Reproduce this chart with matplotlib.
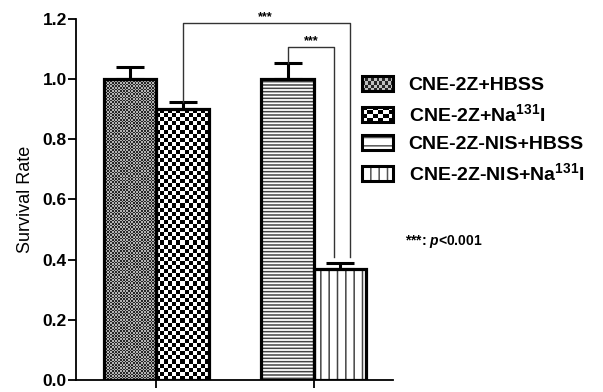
import numpy as np
import matplotlib
matplotlib.use('Agg')
import matplotlib.pyplot as plt
from matplotlib.patches import Rectangle, Patch
from matplotlib.legend_handler import HandlerBase
from matplotlib.image import BboxImage
from matplotlib.transforms import Bbox, TransformedBbox

plt.rcParams['font.family'] = ['Liberation Sans', 'DejaVu Sans']
plt.rcParams['mathtext.fontset'] = 'custom'
plt.rcParams['mathtext.rm'] = 'Liberation Sans:bold'
plt.rcParams['mathtext.bf'] = 'Liberation Sans:bold'
plt.rcParams['mathtext.it'] = 'Liberation Sans:bold:italic'
plt.rcParams['hatch.linewidth'] = 1.1

# data
groups = ['CNE-2Z+HBSS', 'CNE-2Z+Na$^{\\mathrm{131}}$I',
          'CNE-2Z-NIS+HBSS', 'CNE-2Z-NIS+Na$^{\\mathrm{131}}$I']
positions = [0, 1, 3, 4]
means = [1.00, 0.90, 1.00, 0.37]
errors = [0.04, 0.025, 0.053, 0.018]
# significance brackets: (left bar, right x, top y, right foot y, star x, star y)
brackets = [(1, 4.19, 1.187, 0.41, 2.57, 1.205),
            (2, 3.88, 1.107, 0.41, 3.45, 1.125)]
yticks = [0.0, 0.2, 0.4, 0.6, 0.8, 1.0, 1.2]

fig = plt.figure(figsize=(6.03, 3.92), dpi=100)
ax = fig.add_axes([76 / 603, 12 / 392, 317 / 603, 361 / 392])
ax.set_xlim(-1.03, 5.01)
ax.set_ylim(0, 1.2)


def checker(nr, nc, lo, hi):
    i, j = np.indices((nr, nc))
    return np.where((i + j) % 2 == 0, lo, hi)


# fill styles per bar
styles = [('checker', 1.6, 0.15, 0.7), ('checker', 4.1, 0.0, 1.0),
          ('hatch', '-----', None, None), ('hatch', '||', None, None)]

fig.canvas.draw()
px_per_x = ax.transData.transform((1, 0))[0] - ax.transData.transform((0, 0))[0]
px_per_y = ax.transData.transform((0, 1))[1] - ax.transData.transform((0, 0))[1]

outline = ax.bar(positions, means, width=1.0, facecolor='none',
                 edgecolor='black', linewidth=2.3, zorder=3)
for bar, st in zip(outline, styles):
    x0, y0 = bar.get_x(), bar.get_y()
    w, h = bar.get_width(), bar.get_height()
    if st[0] == 'checker':
        cell = st[1]
        nr = max(1, int(round(h * px_per_y / cell)))
        nc = max(1, int(round(w * px_per_x / cell)))
        ax.imshow(checker(nr, nc, st[2], st[3]), extent=(x0, x0 + w, y0, y0 + h),
                  origin='lower', aspect='auto', cmap='gray', vmin=0, vmax=1,
                  interpolation='nearest', zorder=2)
    else:
        ax.add_patch(Rectangle((x0, y0), w, h, facecolor='white', edgecolor='#444444',
                               linewidth=0, hatch=st[1], zorder=2))
ax.set_xlim(-1.03, 5.01)
ax.set_ylim(0, 1.2)

ax.errorbar(positions, means, yerr=[np.zeros(4), errors], fmt='none',
            ecolor='black', elinewidth=2.2, capsize=10, capthick=2.2, zorder=4)

for left, xr, ytop, yfoot, sx, sy in brackets:
    xl = positions[left]
    yl = means[left] + errors[left]
    ax.plot([xl, xl, xr, xr], [yl, ytop, ytop, yfoot], color='#333333',
            linewidth=1.0, clip_on=False, zorder=5)
    ax.text(sx, sy, '***', ha='center', va='center', fontsize=9,
            fontweight='bold', clip_on=False)

ax.spines['top'].set_visible(False)
ax.spines['right'].set_visible(False)
ax.spines['left'].set_linewidth(1.3)
ax.spines['bottom'].set_linewidth(1.3)
ax.set_yticks(yticks)
ax.set_yticklabels([f'{v:.1f}' for v in yticks], fontsize=12.5, fontweight='bold')
ax.set_xticks([0.5, 3.5])
ax.set_xticklabels([])
ax.tick_params(axis='both', direction='out', length=5.5, width=1.3, pad=1)
ax.set_ylabel('Survival Rate', fontsize=13, labelpad=6)


# legend swatches
class SwatchHandler(HandlerBase):
    def __init__(self, kind, param):
        super().__init__()
        self.kind = kind
        self.param = param

    def create_artists(self, legend, orig_handle, xdescent, ydescent,
                       width, height, fontsize, trans):
        arts = []
        if self.kind == 'checker':
            nr, nc, lo, hi = self.param
            bb = TransformedBbox(Bbox.from_bounds(-xdescent, -ydescent, width, height), trans)
            img = BboxImage(bb, cmap='gray', norm=plt.Normalize(0, 1),
                            interpolation='nearest')
            img.set_data(checker(nr, nc, lo, hi))
            arts.append(img)
        else:
            arts.append(Rectangle((-xdescent, -ydescent), width, height,
                                  facecolor='white', edgecolor='#555555',
                                  linewidth=0, hatch=self.param, transform=trans))
        arts.append(Rectangle((-xdescent, -ydescent), width, height,
                              facecolor='none', edgecolor='black',
                              linewidth=2.2, transform=trans))
        return arts


handles = [Patch() for _ in groups]
hmap = {handles[0]: SwatchHandler('checker', (5, 11, 0.15, 0.75)),
        handles[1]: SwatchHandler('checker', (4, 6, 0.0, 1.0)),
        handles[2]: SwatchHandler('hatch', '--'),
        handles[3]: SwatchHandler('hatch', '||')}
ax.legend(handles, groups, handler_map=hmap, loc='upper left',
          bbox_to_anchor=(362 / 603, 1 - 76 / 392), bbox_transform=fig.transFigure,
          frameon=False, prop={'weight': 'bold', 'size': 14},
          handlelength=1.6, handleheight=0.82, handletextpad=0.8,
          labelspacing=0.48, borderpad=0, borderaxespad=0)

fig.text(405 / 603, 1 - 242 / 392, '***: $p$<0.001', fontsize=10,
         fontweight='bold', va='center', ha='left')

fig.savefig('out.png', dpi=100)
